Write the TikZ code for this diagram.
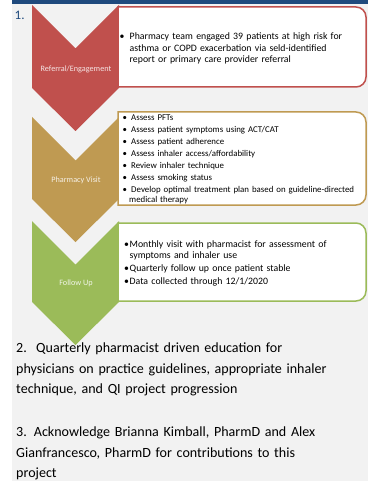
\documentclass[tikz,border=0pt]{standalone}
\usepackage{fontspec}
\setmainfont{Carlito}
\usepackage{tikz}
\pgfdeclarelayer{background}
\pgfdeclarelayer{foreground}
\pgfsetlayers{background,main,foreground}
\definecolor{chevred}{HTML}{C0504D}
\definecolor{chevgold}{HTML}{BF9A52}
\definecolor{chevgreen}{HTML}{9BBB59}
\definecolor{panelgray}{HTML}{F2F2F2}
\definecolor{barblue}{HTML}{1F4A7D}
% bullet line: #1 bullet box width, #2 hang of the wrapped lines, #3 text
\newcommand{\pitem}[3]{\noindent\hangindent=#2\hangafter=1\makebox[#1][l]{\textbullet}#3\par}
\tikzset{
  chevlabel/.style={text=white, text opacity=0.85, font=\fontsize{8.2}{9.8}\selectfont, inner sep=0pt},
  boxtext/.style={anchor=base west, inner sep=0pt, text width=250pt, align=left},
  notetext/.style={anchor=base west, inner sep=0pt, text width=360pt, align=left, font=\fontsize{14.05}{20.6}\selectfont}
}

\begin{document}
\begin{tikzpicture}[x=1pt,y=-1pt]
\useasboundingbox (0,0) rectangle (368,481);
\begin{pgfonlayer}{background}
\fill[panelgray] (12,0) rectangle (368,481);
\fill[barblue] (12,0) rectangle (368,4);
\end{pgfonlayer}
\node[anchor=base west, inner sep=0pt, text=barblue, font=\fontsize{13}{15}\selectfont] (one) at (14.5,19.5) {1.};
% chevrons
\draw[fill=chevred, draw=none] (32,5) -- (75.5,48.5) -- (119,5) -- (119,88) -- (75.5,131) -- (32,88) -- cycle;
\draw[fill=chevgold, draw=none] (32,117) -- (75.5,160.5) -- (119,117) -- (119,199) -- (75.5,242) -- (32,199) -- cycle;
\draw[fill=chevgreen, draw=none] (32,221) -- (75.5,264.5) -- (119,221) -- (119,302) -- (75.5,345) -- (32,302) -- cycle;
\node[chevlabel] (referral) at (76,69) {Referral/Engagement};
\node[chevlabel] (visit) at (76,180) {Pharmacy Visit};
\node[chevlabel] (followup) at (76,283) {Follow Up};
% boxes
\begin{pgfonlayer}{foreground}
\draw[line width=1.5pt, draw=chevred, fill=white] (118,7) -- (356,7) arc[start angle=270, end angle=360, radius=10] -- (366,77) arc[start angle=0, end angle=90, radius=10] -- (118,87) -- cycle;
\draw[line width=1.5pt, draw=chevgold, fill=white] (118,112) -- (356,112) arc[start angle=270, end angle=360, radius=10] -- (366,195) arc[start angle=0, end angle=90, radius=10] -- (118,205) -- cycle;
\draw[line width=1.5pt, draw=chevgreen, fill=white] (118,223) -- (356,223) arc[start angle=270, end angle=360, radius=10] -- (366,291) arc[start angle=0, end angle=90, radius=10] -- (118,301) -- cycle;
\node[boxtext, font=\fontsize{9.8}{11.65}\selectfont] (reftext) at (119.5,39.5) {%
\pitem{10pt}{10pt}{Pharmacy team engaged 39 patients at high risk for\newline asthma or COPD exacerbation via seld-identified\newline report or primary care provider referral}};
\node[boxtext, font=\fontsize{8.85}{10}\selectfont, execute at begin node={\setlength{\parskip}{2pt}}] (visittext) at (122.5,120.3) {%
\pitem{8.5pt}{6.5pt}{Assess PFTs}
\pitem{8.5pt}{6.5pt}{Assess patient symptoms using ACT/CAT}
\pitem{8.5pt}{6.5pt}{Assess patient adherence}
\pitem{8.5pt}{6.5pt}{Assess inhaler access/affordability}
\pitem{8.5pt}{6.5pt}{Review inhaler technique}
\pitem{8.5pt}{6.5pt}{Assess smoking status}
\pitem{8.5pt}{6.5pt}{Develop optimal treatment plan based on guideline-directed\newline medical therapy}};
\node[boxtext, font=\fontsize{9.8}{10.8}\selectfont, execute at begin node={\setlength{\parskip}{2.4pt}}] (followtext) at (124,247.3) {%
\pitem{5.5pt}{5.5pt}{Monthly visit with pharmacist for assessment of\newline symptoms and inhaler use}
\pitem{5.5pt}{5.5pt}{Quarterly follow up once patient stable}
\pitem{5.5pt}{5.5pt}{Data collected through 12/1/2020}};
\end{pgfonlayer}
% notes below
\node[notetext] (education) at (16,352.5) {2.~~Quarterly pharmacist driven education for\\physicians on practice guidelines, appropriate inhaler\\technique, and QI project progression};
\node[notetext] (thanks) at (16,436.5) {3. Acknowledge Brianna Kimball, PharmD and Alex\\Gianfrancesco, PharmD for contributions to this\\project};
\end{tikzpicture}
\end{document}
